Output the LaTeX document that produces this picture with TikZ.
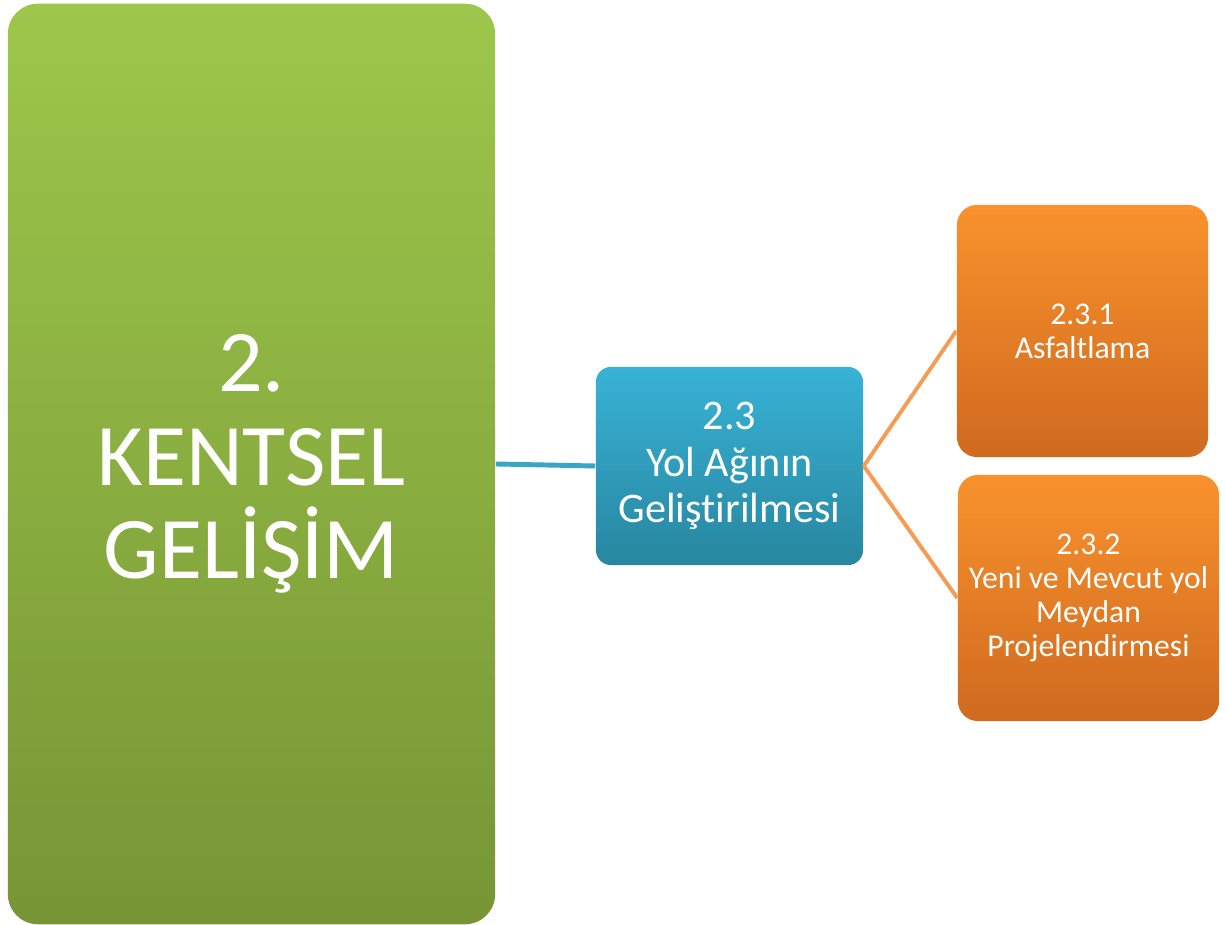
\documentclass[tikz,border=0pt]{standalone}
\usepackage{fontspec}
\setmainfont{Carlito}[Ligatures = NoCommon]
\usepackage{tikz}
\usetikzlibrary{positioning, arrows.meta}
\definecolor{greentop}{HTML}{9DC74B}
\definecolor{greenbot}{HTML}{779535}
\definecolor{bluetop}{HTML}{37B3D5}
\definecolor{bluebot}{HTML}{2886A0}
\definecolor{orangetop}{HTML}{F9922D}
\definecolor{orangebot}{HTML}{CF6A1F}
\definecolor{orangeline}{HTML}{F79A52}
\definecolor{blueline}{HTML}{3AA6C4}
\tikzset{%
	box/.style = {name = #1, rectangle, text = white, align = center, inner sep = 0pt},
	main/.style = {box = #1, rounded corners = 0.3cm, top color = greentop, bottom color = greenbot,
		minimum width = 4.87cm, minimum height = 9.2cm, font = \fontsize{25}{26.5}\selectfont},
	mid/.style = {box = #1, rounded corners = 0.15cm, top color = bluetop, bottom color = bluebot,
		minimum width = 2.67cm, minimum height = 1.98cm, font = \fontsize{12}{13.3}\selectfont},
	leaf/.style = {box = #1, rounded corners = 0.2cm, top color = orangetop, bottom color = orangebot,
		minimum height = 2.5cm, font = \fontsize{9}{9.7}\selectfont},
	bluelink/.style = {draw = blueline, line width = 1.4pt},
	orangelink/.style = {draw = orangeline, line width = 1.1pt}
}
\begin{document}
\begin{tikzpicture}[x=0.01cm, y=-0.01cm]
			\useasboundingbox (0,0) rectangle (1226,925);
			\node [main = {K}] at (251.5,464) {2.\\KENTSEL\\GELİŞİM};
			\node [mid = {Y}] at (729.5,466) {2.3\\Yol Ağının\\Geliştirilmesi};
			\node [leaf = {A}, minimum width = 2.51cm, minimum height = 2.52cm] at (1082.5,331) {2.3.1\\Asfaltlama};
			\node [leaf = {P}, minimum width = 2.61cm, minimum height = 2.46cm] at (1088.5,598) {2.3.2\\Yeni ve Mevcut yol\\Meydan\\Projelendirmesi};
			\path [bluelink] (K.east) -- (Y.west);
			\path [orangelink] (Y.east) -- (A.west);
			\path [orangelink] (Y.east) -- (P.west);
\end{tikzpicture}
\end{document}
